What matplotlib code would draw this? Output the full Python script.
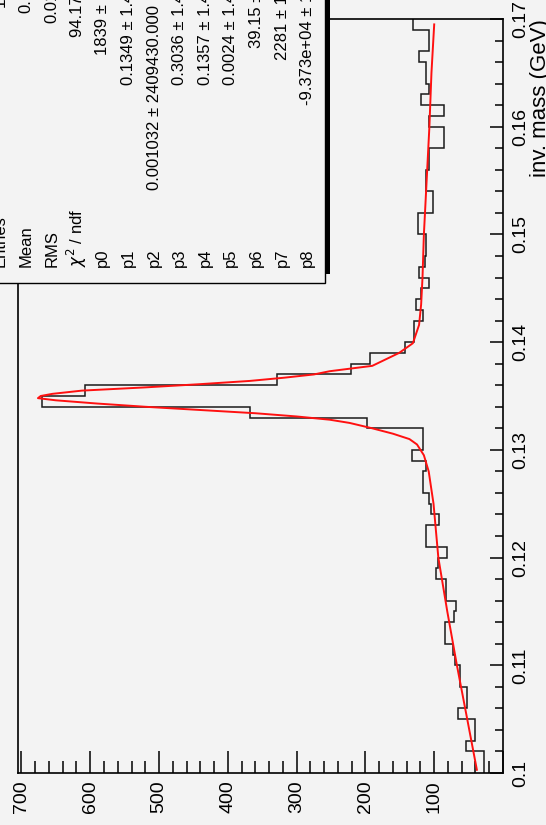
import numpy as np
import matplotlib
matplotlib.use('Agg')
import matplotlib.pyplot as plt
from matplotlib.ticker import MultipleLocator
from matplotlib.patches import Rectangle

# histogram: 70 bins of 1 MeV between 0.10 and 0.17 GeV
bin_edges_lo = 0.100
bin_width = 0.001
counts = [28, 28, 54, 40, 40, 66, 52, 52, 62, 62,
          70, 72, 85, 85, 71, 69, 83, 83, 97, 95,
          81, 112, 112, 93, 105, 107, 117, 117, 112, 132,
          117, 117, 197, 368, 670, 607, 329, 221, 194, 143,
          129, 129, 117, 127, 119, 107, 122, 114, 112, 112,
          124, 124, 102, 102, 112, 112, 107, 107, 86, 86,
          107, 86, 119, 107, 112, 112, 122, 107, 107, 131]

# fitted curve
fit_mass = [0.1003, 0.105, 0.110, 0.115, 0.120, 0.125, 0.128, 0.1295, 0.1305,
            0.131, 0.1315, 0.132, 0.1325, 0.1328, 0.1331, 0.1334, 0.1337, 0.134,
            0.1343, 0.1346, 0.1348, 0.1350, 0.1352, 0.1355, 0.1358, 0.1361,
            0.1364, 0.1367, 0.137, 0.1373, 0.1378, 0.139, 0.1399, 0.1416,
            0.1435, 0.146, 0.150, 0.155, 0.160, 0.165, 0.1695]
fit_counts = [38, 52, 67, 81, 94, 101, 108, 115, 125,
              136, 160, 190, 223, 252, 300, 360, 440, 520,
              590, 650, 676, 672, 655, 612, 520, 440,
              368, 318, 275, 252, 190, 151, 131, 122,
              119, 117, 115, 111, 107, 104, 100]

count_ticks = [0, 100, 200, 300, 400, 500, 600, 700]
count_labels = ["", "100", "200", "300", "400", "500", "600", "700"]
mass_ticks = [0.10, 0.11, 0.12, 0.13, 0.14, 0.15, 0.16, 0.17]
mass_labels = ["0.1", "0.11", "0.12", "0.13", "0.14", "0.15", "0.16", "0.17"]

stat_names = ["Entries", "Mean", "RMS", r"$\chi^2$ / ndf", "p0", "p1", "p2",
              "p3", "p4", "p5", "p6", "p7", "p8"]
stat_values = ["11869", "0.1363", "0.01691", "94.17 / 61", "1839 \u00b1 1.061e+05",
               "0.1349 \u00b1 1.414", "0.001032 \u00b1 2409430.000",
               "0.3036 \u00b1 1.414", "0.1357 \u00b1 1.414", "0.0024 \u00b1 1.414",
               "39.15 \u00b1 1.4", "2281 \u00b1 1.414", "-9.373e+04 \u00b1 1.4"]
# where each value string starts (pixels from top, text runs upwards)
stat_value_start = [7, 13, 23, 37, 55, 85, 190, 85, 85, 85, 48, 60, 105]

W, H = 546, 825
bg = '#f3f3f3'
plt.rcParams['font.family'] = ['Liberation Sans', 'DejaVu Sans']

fig = plt.figure(figsize=(W / 100, H / 100), dpi=100, facecolor=bg)
# the picture is a ROOT canvas turned by 90 degrees
ax = fig.add_axes([18 / W, 1 - 773 / H, (503 - 18) / W, (773 - 19) / H])
ax.set_facecolor(bg)

edges = bin_edges_lo + bin_width * np.arange(len(counts) + 1)
ax.stairs(counts, edges, orientation='horizontal', baseline=None,
          color='#1a1a1a', lw=1.1)
ax.plot(fit_counts, fit_mass, color='#ff1010', lw=1.4)

ax.set_xlim(705, 0)
ax.set_ylim(0.100, 0.170)

ax.set_xticks(count_ticks, count_labels)
ax.xaxis.set_minor_locator(MultipleLocator(20))
ax.yaxis.tick_right()
ax.set_yticks(mass_ticks, mass_labels)
ax.yaxis.set_minor_locator(MultipleLocator(0.002))

ax.tick_params(axis='x', which='major', direction='in', length=16, width=1.1,
               labelsize=14, labelrotation=90, pad=5)
ax.tick_params(axis='x', which='minor', direction='in', length=8.5, width=1.1)
ax.tick_params(axis='y', which='major', direction='in', length=9.5, width=1.1,
               labelsize=14, labelrotation=90, pad=7)
ax.tick_params(axis='y', which='minor', direction='in', length=5.5, width=1.1)
plt.setp(ax.get_yticklabels(), va='center')
for s in ax.spines.values():
    s.set_linewidth(1.2)

fig.text(540.5 / W, 1 - 19 / H, "inv. mass (GeV)", rotation=90, ha='center',
         va='top', fontsize=16)

# stats box, drawn in pixel coordinates on an overlay
ov = fig.add_axes([0, 0, 1, 1])
ov.set_xlim(0, W)
ov.set_ylim(H, 0)
ov.axis('off')
ov.patch.set_alpha(0)
ov.add_patch(Rectangle((-6, -16), 336, 290, facecolor='black', edgecolor='none'))
ov.add_patch(Rectangle((-10, -10), 335, 293, facecolor=bg, edgecolor='black', lw=1))

col_x0, col_dx = 0.5, 25.6
for i, (name, val, y0) in enumerate(zip(stat_names, stat_values, stat_value_start)):
    x = col_x0 + col_dx * i
    ov.text(x, 267, name, rotation=90, ha='center', va='bottom', fontsize=12,
            clip_on=True)
    ov.text(x, y0, val, rotation=90, ha='center', va='bottom', fontsize=12,
            clip_on=True)

fig.savefig('out.png', dpi=100, facecolor=bg)
